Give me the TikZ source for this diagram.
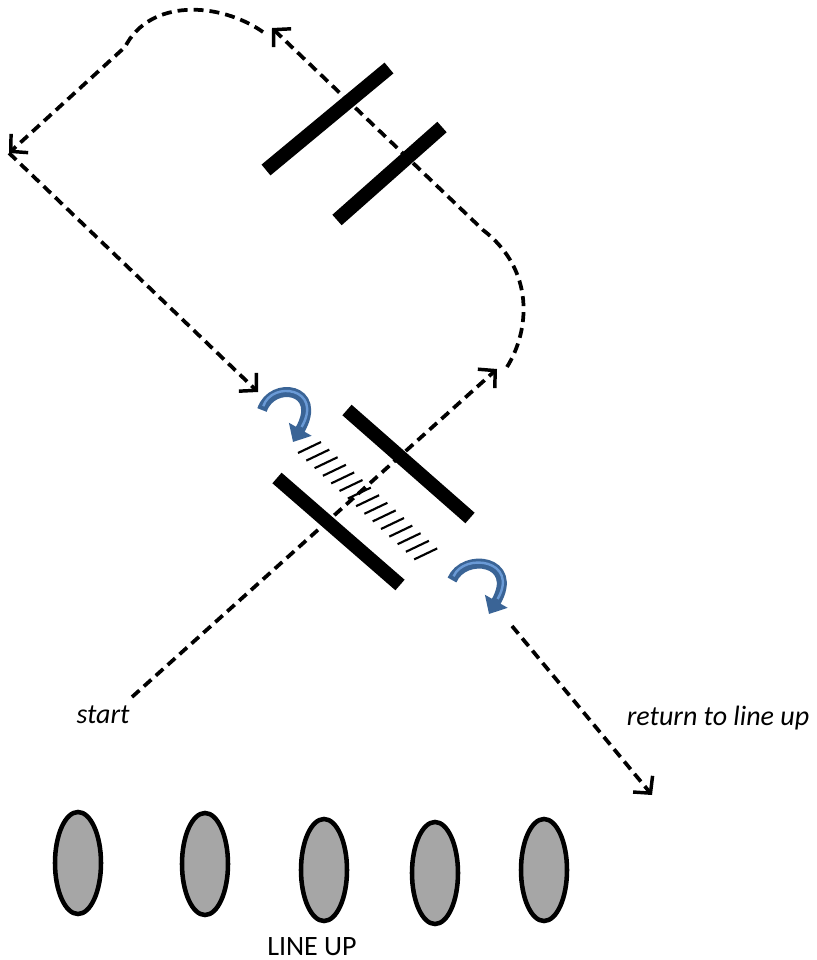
\documentclass[tikz,border=0pt]{standalone}
\usepackage{fontspec}
\setmainfont{Carlito}
\usetikzlibrary{arrows.meta, shapes.geometric, positioning}

\definecolor{twistblue}{HTML}{3A6496}
\definecolor{twistlight}{HTML}{6A9AD6}
\definecolor{playergray}{HTML}{A6A6A6}

\tikzset{
  route/.style={line width=2.8pt, dash pattern=on 7.5pt off 4.5pt},
  routearrow/.style={route, -{Straight Barb[length=9pt,width=19pt,line width=2.6pt]}},
  bar/.style={line width=10.5pt},
  hatch/.style={line width=1.6pt},
  twist/.style={draw=twistblue, line width=7.5pt, -{Triangle[length=11pt,width=19pt]}},
  twistshine/.style={draw=twistlight, line width=1.8pt, shorten >=13pt, shorten <=3pt},
  player/.style={ellipse, draw, line width=3.4pt, fill=playergray, inner sep=0pt,
    minimum width=34.5pt, minimum height=76.5pt},
  lbl/.style={font=\fontsize{21}{25}\selectfont, inner sep=0pt, anchor=base}
}

\begin{document}
\begin{tikzpicture}[x=0.75pt, y=-0.75pt]
\useasboundingbox (0,0) rectangle (817,960);

% Route points
\coordinate (go) at (132,697);
\coordinate (gatetop) at (497,369);
\coordinate (loopin) at (507,367);
\coordinate (loopout) at (483,230);
\coordinate (peak) at (272,28);
\coordinate (archin) at (263,32);
\coordinate (archout) at (125,47);
\coordinate (corner) at (9,153);
\coordinate (back) at (258,392);
\coordinate (leave) at (512,626);
\coordinate (home) at (652,795);

% Upper pair of bars
\draw[bar] (266,170) -- (389,68);
\draw[bar] (337,220) -- (442,127);

% Lower pair of bars with the hatched lane between
\draw[bar] (347,410) -- (470,518);
\draw[bar] (277,478) -- (400,585);
\foreach \i in {0,...,14}
  \draw[hatch] ({298+8.3*\i},{453+7.6*\i}) -- ++(23,-11);

% Dashed route
\draw[routearrow] (go) -- (gatetop);
\draw[routearrow] (loopin) .. controls (530,330) and (535,270) .. (loopout) -- (peak);
\draw[routearrow] (archin) .. controls (220,2) and (150,-2) .. (archout) -- (corner);
\draw[routearrow] (corner) -- (back);
\draw[routearrow] (leave) -- (home);

% Turn arrows
\coordinate (twa) at (262,410);
\coordinate (twb) at (293,442);
\coordinate (twc) at (452,580);
\coordinate (twd) at (489,614);
\draw[twist] (twa) .. controls (272,380) and (324,388) .. (twb);
\draw[twistshine] (twa) .. controls (272,380) and (324,388) .. (twb);
\draw[twist] (twc) .. controls (464,552) and (520,560) .. (twd);
\draw[twistshine] (twc) .. controls (464,552) and (520,560) .. (twd);

% Labels
\node[lbl] (startlbl) at (103,723) {\itshape start};
\node[lbl] (retlbl) at (718,725) {\itshape return to line up};

% Line up
\foreach \n/\x/\y in {1/78/863, 2/205/864, 3/324/870, 4/435/873, 5/544/870}
  \node[player] (p\n) at (\x,\y) {};
\node[lbl] (lineup) at (312,955) {LINE UP};
\end{tikzpicture}
\end{document}
